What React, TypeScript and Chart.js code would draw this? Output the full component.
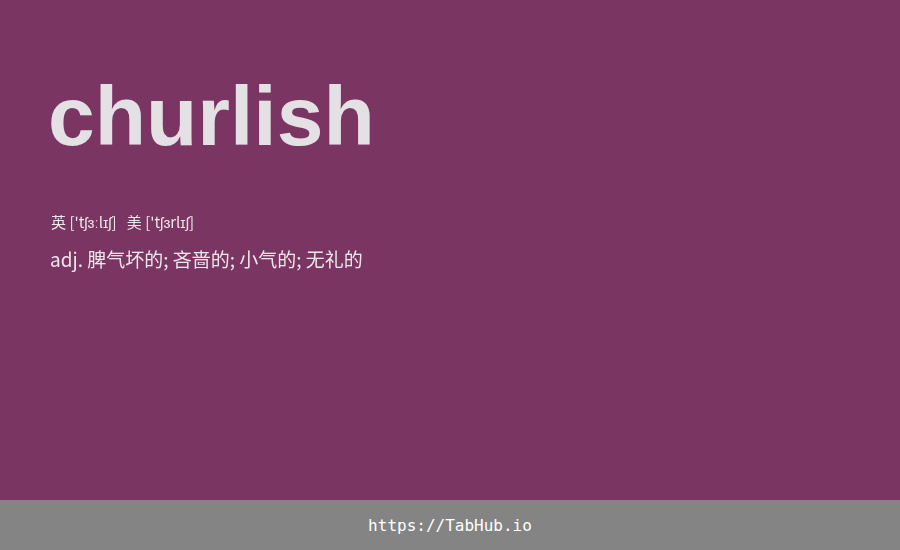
import React, { useEffect, useRef } from "react";
import { Chart, registerables } from "chart.js";
Chart.register(...registerables);

const word = "churlish";
const phoneticLabels = ["英", "['tʃɜːlɪʃ]", "美", "['tʃɜrlɪʃ]"];
const definition = "adj. 脾气坏的; 吝啬的; 小气的; 无礼的";
const footerText = "https://TabHub.io";

export default function App() {
  const ref = useRef<HTMLCanvasElement>(null);
  useEffect(() => {
    document.body.style.margin = "0";
    const chart = new Chart(ref.current!, {
      type: "bar",
      data: { labels: [], datasets: [] },
      options: {
        animation: false,
        responsive: false,
        plugins: { legend: { display: false }, tooltip: { enabled: false } },
        scales: { x: { display: false }, y: { display: false } },
      },
    });
    return () => chart.destroy();
  }, []);
  const font = "'Noto Sans CJK SC', 'Open Sans', sans-serif";
  return (
    <div style={{ position: "fixed", left: 0, top: 0, width: 900, height: 550, background: "#7B3563", overflow: "hidden" }}>
      <canvas ref={ref} width={900} height={500} style={{ position: "absolute", left: 0, top: 0 }} />
      <div style={{ position: "absolute", left: 48, top: 66, fontFamily: "'Liberation Sans', Arial, sans-serif", fontWeight: "bold", fontSize: 84, color: "#E3E1E3", lineHeight: "100px" }}>
        {word}
      </div>
      <div style={{ position: "absolute", left: 51, top: 211, fontFamily: font, fontSize: 15, color: "#EDE6EA", whiteSpace: "pre" }}>
        {phoneticLabels[0]} {phoneticLabels[1]}{"   "}{phoneticLabels[2]} {phoneticLabels[3]}
      </div>
      <div style={{ position: "absolute", left: 50, top: 245, fontFamily: font, fontSize: 19, color: "#EDE6EA", whiteSpace: "pre" }}>
        {definition}
      </div>
      <div style={{ position: "absolute", left: 0, top: 500, width: 900, height: 50, background: "#848484", display: "flex", alignItems: "center", justifyContent: "center", fontFamily: "'DejaVu Sans Mono', monospace", fontSize: 16, color: "#FFFFFF" }}>
        {footerText}
      </div>
    </div>
  );
}
